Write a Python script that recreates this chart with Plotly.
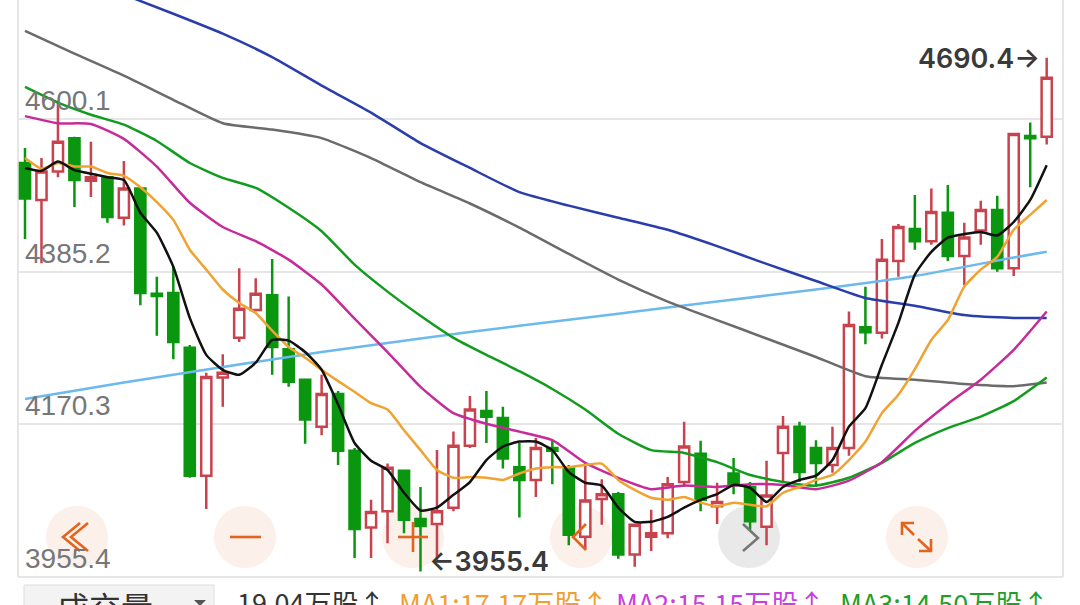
import plotly.graph_objects as go

WIDTH = 1080
HEIGHT = 605
LEFT, RIGHT, BOTTOM = 18, 1063, 577

opens = [4538, 4486, 4526, 4573, 4513, 4518, 4461, 4502, 4354, 4355, 4278, 4098, 4236, 4292, 4331, 4352,
         4276, 4233, 4167, 4213, 4133, 4025, 4048, 4105, 4037, 4030, 4053, 4140, 4189, 4179, 4110, 4092,
         4137, 4109, 4012, 4065, 4072, 3987, 4012, 4017, 4089, 4129, 4055, 4101, 4082, 4026, 4130, 4167,
         4137, 4113, 4137, 4307, 4299, 4400, 4445, 4428, 4468, 4407, 4443, 4472, 4390, 4576, 4575]
closes = [4488, 4526, 4568, 4514, 4518, 4462, 4502, 4355, 4351, 4286, 4098, 4237, 4243, 4333, 4354, 4279,
          4230, 4177, 4213, 4133, 4023, 4047, 4109, 4036, 4027, 4048, 4140, 4191, 4181, 4122, 4092, 4137,
          4133, 4015, 4063, 4072, 3987, 4029, 4017, 4086, 4139, 4064, 4061, 4085, 4034, 4070, 4167, 4103,
          4116, 4137, 4310, 4300, 4402, 4448, 4428, 4469, 4407, 4433, 4472, 4390, 4579, 4573, 4658]
highs = [4559, 4545, 4623, 4575, 4568, 4518, 4541, 4504, 4378, 4392, 4282, 4243, 4269, 4390, 4376, 4403,
         4350, 4233, 4240, 4217, 4137, 4064, 4115, 4106, 4082, 4134, 4160, 4210, 4217, 4195, 4144, 4151,
         4147, 4113, 4116, 4093, 4075, 4030, 4050, 4096, 4174, 4147, 4088, 4123, 4089, 4119, 4182, 4174,
         4148, 4167, 4329, 4364, 4431, 4452, 4493, 4502, 4507, 4454, 4485, 4492, 4579, 4595, 4686]
lows = [4431, 4397, 4518, 4476, 4490, 4454, 4450, 4338, 4295, 4262, 4095, 4051, 4195, 4286, 4329, 4240,
        4223, 4143, 4155, 4113, 3982, 3982, 4003, 4017, 3963, 3979, 4048, 4137, 4144, 4108, 4039, 4068,
        4086, 4000, 3994, 4029, 3981, 3970, 3992, 4010, 4082, 4048, 4030, 4072, 4022, 4000, 4088, 4089,
        4082, 4102, 4126, 4283, 4291, 4378, 4416, 4423, 4400, 4366, 4423, 4385, 4379, 4504, 4564]
candle_index = list(range(63))

ma_black = [4531, 4527, 4540, 4528, 4523, 4518, 4514, 4468, 4440, 4392, 4320, 4268, 4247, 4240, 4257, 4289,
            4288, 4272, 4247, 4198, 4144, 4119, 4106, 4074, 4049, 4053, 4071, 4089, 4120, 4139, 4146, 4146,
            4134, 4103, 4088, 4084, 4053, 4033, 4033, 4040, 4053, 4064, 4072, 4085, 4081, 4061, 4082, 4092,
            4098, 4120, 4167, 4193, 4254, 4313, 4381, 4413, 4433, 4438, 4441, 4436, 4455, 4486, 4535]
ma_orange = [4545, 4530, 4538, 4533, 4533, 4524, 4520, 4504, 4483, 4458, 4416, 4388, 4360, 4341, 4327, 4302,
             4279, 4264, 4247, 4231, 4216, 4200, 4191, 4162, 4134, 4106, 4095, 4096, 4095, 4092, 4101, 4108,
             4110, 4110, 4113, 4115, 4092, 4078, 4067, 4064, 4068, 4060, 4055, 4060, 4057, 4055, 4074, 4082,
             4092, 4099, 4120, 4146, 4186, 4212, 4248, 4289, 4317, 4364, 4388, 4406, 4444, 4465, 4486]

even_index = list(range(0, 63, 2))
ma_magenta = [4604, 4594, 4593, 4572, 4533, 4482, 4448, 4428, 4402, 4367, 4319, 4272, 4223, 4186, 4171, 4160,
              4148, 4116, 4095, 4079, 4084, 4082, 4086, 4085, 4079, 4091, 4117, 4161, 4199, 4233, 4275, 4329]
ma_green = [4645, 4623, 4606, 4592, 4569, 4538, 4517, 4503, 4475, 4442, 4395, 4357, 4323, 4292, 4268, 4245,
            4220, 4191, 4157, 4134, 4130, 4117, 4099, 4089, 4084, 4095, 4116, 4144, 4165, 4181, 4203, 4236]

gray_index = list(range(0, 63, 3)) + [62]
ma_gray = [4724, 4692, 4661, 4627, 4594, 4585, 4573, 4545, 4511, 4481, 4447, 4410, 4374, 4343, 4317, 4291,
           4265, 4238, 4233, 4227, 4224, 4229]
blue_index = list(range(6, 63, 3)) + [62]
ma_blue = [4775, 4748, 4720, 4687, 4647, 4609, 4566, 4531, 4497, 4478, 4461, 4444, 4421, 4396, 4372, 4348,
           4337, 4324, 4320, 4320]
sky_index = list(range(0, 63, 6)) + [62]
ma_sky = [4206, 4229, 4251, 4272, 4291, 4309, 4326, 4343, 4360, 4379, 4405, 4413]

y_ticks = [4600.1, 4385.2, 4170.3, 3955.4]
y_labels = ["4600.1", "4385.2", "4170.3", "3955.4"]
high_label = "4690.4→"
low_label = "←3955.4"
volume_select = "成交量"
volume_texts = ["19.04万股↑", "MA1:17.17万股↑", "MA2:15.15万股↑", "MA3:14.50万股↑"]
volume_colors = ["#333333", "#f0a030", "#c83fe0", "#1f9e2a"]
volume_x = [235, 397, 614, 838]


def px(x):
    return (x - LEFT) / (RIGHT - LEFT)


def py(y):
    return 1 - y / BOTTOM


def icon(points, color, width=2.6):
    path = "M " + " L ".join(f"{px(a)} {py(b)}" for a, b in points)
    return dict(type="path", xref="paper", yref="paper", path=path, line=dict(color=color, width=width))


def circle(cx, color, r=31, cy=537):
    return dict(type="circle", xref="paper", yref="paper", layer="below", fillcolor=color, line_width=0,
                x0=px(cx - r), x1=px(cx + r), y0=py(cy + r), y1=py(cy - r))


fig = go.Figure()

fig.add_trace(go.Candlestick(
    x=candle_index, open=opens, high=highs, low=lows, close=closes,
    whiskerwidth=0,
    increasing=dict(line=dict(color="#c8434e", width=2.5), fillcolor="#ffffff"),
    decreasing=dict(line=dict(color="#0a960f", width=2.5), fillcolor="#0a960f"),
    hoverinfo="skip",
))

lines = [
    (sky_index, ma_sky, "#6cb9ee"),
    (blue_index, ma_blue, "#2a3eab"),
    (gray_index, ma_gray, "#6b6b6b"),
    (even_index, ma_green, "#129c1e"),
    (even_index, ma_magenta, "#c62b9a"),
    (candle_index, ma_orange, "#f0a232"),
    (candle_index, ma_black, "#111111"),
]
for xs, ys, color in lines:
    fig.add_trace(go.Scatter(x=xs, y=ys, mode="lines", line=dict(color=color, width=2.5, shape="spline", smoothing=0.5),
                             hoverinfo="skip"))

orange = "#e2641f"
shapes = [circle(x, "#fbf0ea") for x in (77, 245, 413, 581, 917)] + [circle(749, "#e9e9e9")]
shapes += [
    icon([(80, 523), (63, 537), (80, 551)], orange),
    icon([(88, 523), (71, 537), (88, 551)], orange),
    icon([(230, 537), (261, 537)], orange),
    icon([(398, 537), (428, 537)], orange),
    icon([(413, 522), (413, 552)], orange),
    icon([(586, 524), (573, 537), (586, 550)], orange),
    icon([(743, 524), (758, 538), (743, 551)], "#777777"),
    icon([(902, 535), (902, 523), (914, 523)], orange),
    icon([(902, 523), (914, 535)], orange),
    icon([(919, 551), (931, 551), (931, 539)], orange),
    icon([(931, 551), (918, 539)], orange),
    # panel edges
    dict(type="line", xref="paper", yref="paper", layer="below", x0=0, x1=0, y0=0, y1=1, line=dict(color="#e6e6e6", width=2)),
    dict(type="line", xref="paper", yref="paper", layer="below", x0=1, x1=1, y0=0, y1=1, line=dict(color="#e6e6e6", width=2)),
    dict(type="line", xref="paper", yref="paper", layer="below", x0=0, x1=1, y0=0, y1=0, line=dict(color="#e6e6e6", width=2)),
    # select box under the panel
    dict(type="rect", xref="paper", yref="paper", layer="below", x0=px(24), x1=px(214), y0=py(585), y1=py(620),
         fillcolor="#f3f3f3", line=dict(color="#dddddd", width=1)),
    dict(type="path", xref="paper", yref="paper",
         path=f"M {px(194)} {py(600)} L {px(206)} {py(600)} L {px(200)} {py(606)} Z",
         fillcolor="#555555", line_width=0),
]
fig.update_layout(shapes=shapes)

for value, label in zip(y_ticks, y_labels):
    fig.add_annotation(x=px(23), xref="paper", y=value, yref="y", text=label, showarrow=False, xanchor="left",
                       yanchor="bottom", yshift=1, font=dict(family="Liberation Sans", size=28, color="#777777"))

fig.add_annotation(x=px(1042), xref="paper", y=py(58), yref="paper", text=high_label, showarrow=False,
                   xanchor="right", yanchor="middle",
                   font=dict(family="Inter", size=27, weight=600, color="#3a3a3a"))
fig.add_annotation(x=px(427), xref="paper", y=py(561), yref="paper", text=low_label, showarrow=False,
                   xanchor="left", yanchor="middle",
                   font=dict(family="Inter", size=27, weight=600, color="#3a3a3a"))

fig.add_annotation(x=px(55), xref="paper", y=py(581), yref="paper", text=volume_select, showarrow=False,
                   xanchor="left", yanchor="top", font=dict(family="Noto Sans CJK SC", size=32, color="#333333"))
for x, text, color in zip(volume_x, volume_texts, volume_colors):
    fig.add_annotation(x=px(x), xref="paper", y=py(581), yref="paper", text=text, showarrow=False,
                       xanchor="left", yanchor="top", font=dict(family="Noto Sans CJK SC", size=27, color=color))

fig.update_xaxes(range=[-0.425, 62.99], visible=False, rangeslider_visible=False)
fig.update_yaxes(range=[3955.4, 4767.4], tickvals=y_ticks, showticklabels=False, showline=False, zeroline=False,
                 gridcolor="#e6e6e6", gridwidth=2)
fig.update_layout(
    width=WIDTH,
    height=HEIGHT,
    margin=dict(l=LEFT, r=WIDTH - RIGHT, t=0, b=HEIGHT - BOTTOM),
    paper_bgcolor="white",
    plot_bgcolor="white",
    showlegend=False,
    boxgap=0.12,
)

fig.write_html("out.html", config={"displayModeBar": False}, post_script="document.body.style.margin='0';")
